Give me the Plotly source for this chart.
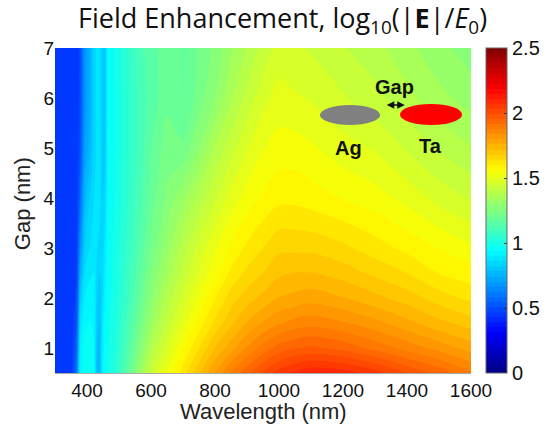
import plotly.graph_objects as go

# Wavelength samples (nm) and gap samples (nm)
wavelength = [300, 350, 368, 378, 392, 408, 422, 432, 440, 448, 455, 465, 490, 520,
              560, 600, 650, 700, 750, 800, 850, 900, 950, 1000, 1050, 1100, 1200,
              1300, 1400, 1500, 1600]
gap = [0.5, 1, 1.5, 2, 2.5, 3, 4, 5, 6, 7]

# log10(|E|/E0) along wavelength, one row per gap
enh_g0_5 = [0.43, 0.44, 0.60, 0.92, 0.96, 0.97, 0.95, 0.77, 0.75, 0.92, 0.96, 0.98, 1.03, 1.14,
            1.29, 1.43, 1.53, 1.62, 1.71, 1.80, 1.88, 1.94, 2.00, 2.05, 2.08, 2.10, 2.09,
            2.05, 1.99, 1.94, 1.88]
enh_g1 = [0.43, 0.44, 0.55, 0.90, 0.95, 0.96, 0.94, 0.78, 0.76, 0.90, 0.95, 0.97, 1.02, 1.11,
          1.24, 1.37, 1.47, 1.56, 1.64, 1.72, 1.78, 1.84, 1.89, 1.93, 1.95, 1.96, 1.94,
          1.90, 1.86, 1.82, 1.78]
enh_g1_5 = [0.43, 0.44, 0.51, 0.86, 0.93, 0.94, 0.93, 0.80, 0.78, 0.88, 0.94, 0.97, 1.01, 1.09,
            1.20, 1.32, 1.42, 1.50, 1.58, 1.65, 1.71, 1.76, 1.80, 1.83, 1.85, 1.86, 1.84,
            1.81, 1.77, 1.73, 1.70]
enh_g2 = [0.43, 0.44, 0.48, 0.80, 0.90, 0.92, 0.92, 0.82, 0.80, 0.85, 0.92, 0.96, 1.00, 1.07,
          1.17, 1.28, 1.38, 1.46, 1.53, 1.60, 1.66, 1.70, 1.73, 1.76, 1.77, 1.78, 1.76,
          1.73, 1.70, 1.66, 1.63]
enh_g2_5 = [0.43, 0.44, 0.46, 0.73, 0.86, 0.89, 0.90, 0.84, 0.82, 0.84, 0.90, 0.96, 0.99, 1.06,
            1.15, 1.25, 1.34, 1.42, 1.49, 1.55, 1.61, 1.65, 1.68, 1.71, 1.72, 1.72, 1.70,
            1.67, 1.64, 1.60, 1.58]
enh_g3 = [0.43, 0.44, 0.45, 0.66, 0.82, 0.86, 0.88, 0.86, 0.85, 0.83, 0.88, 0.95, 0.99, 1.05,
          1.13, 1.22, 1.31, 1.39, 1.46, 1.52, 1.57, 1.61, 1.64, 1.67, 1.67, 1.67, 1.65,
          1.62, 1.59, 1.56, 1.53]
enh_g4 = [0.43, 0.44, 0.45, 0.56, 0.76, 0.82, 0.86, 0.87, 0.87, 0.82, 0.84, 0.94, 0.98, 1.04,
          1.11, 1.19, 1.26, 1.32, 1.38, 1.44, 1.50, 1.54, 1.57, 1.59, 1.59, 1.58, 1.56,
          1.54, 1.51, 1.47, 1.44]
enh_g5 = [0.43, 0.44, 0.45, 0.50, 0.70, 0.76, 0.84, 0.87, 0.87, 0.82, 0.80, 0.94, 0.98, 1.03,
          1.10, 1.17, 1.23, 1.22, 1.29, 1.37, 1.43, 1.48, 1.52, 1.54, 1.54, 1.53, 1.50,
          1.48, 1.44, 1.40, 1.37]
enh_g6 = [0.43, 0.44, 0.45, 0.48, 0.68, 0.74, 0.84, 0.87, 0.87, 0.82, 0.79, 0.94, 0.98, 1.03,
          1.10, 1.15, 1.20, 1.17, 1.23, 1.29, 1.36, 1.42, 1.47, 1.50, 1.49, 1.48, 1.45,
          1.42, 1.38, 1.34, 1.31]
enh_g7 = [0.43, 0.44, 0.45, 0.48, 0.68, 0.74, 0.84, 0.87, 0.87, 0.82, 0.79, 0.94, 0.98, 1.04,
          1.11, 1.16, 1.19, 1.17, 1.22, 1.26, 1.32, 1.37, 1.42, 1.46, 1.45, 1.44, 1.41,
          1.38, 1.34, 1.30, 1.27]

z = [enh_g0_5, enh_g1, enh_g1_5, enh_g2, enh_g2_5, enh_g3, enh_g4, enh_g5, enh_g6, enh_g7]

x_ticks = [400, 600, 800, 1000, 1200, 1400, 1600]
y_ticks = [1, 2, 3, 4, 5, 6, 7]
cbar_ticks = [0, 0.5, 1, 1.5, 2, 2.5]
cbar_labels = ["0", "0.5", "1", "1.5", "2", "2.5"]

# MATLAB-style jet colormap
jet = [
    [0.0, "rgb(0,0,128)"],
    [0.125, "rgb(0,0,255)"],
    [0.375, "rgb(0,255,255)"],
    [0.625, "rgb(255,255,0)"],
    [0.875, "rgb(255,0,0)"],
    [1.0, "rgb(128,0,0)"],
]

ZMIN, ZMAX = 0.0, 2.5
N_LEVELS = 64

fig = go.Figure()
fig.add_trace(go.Contour(
    x=wavelength, y=gap, z=z,
    colorscale=jet, zmin=ZMIN, zmax=ZMAX, zauto=False,
    autocontour=False,
    contours=dict(start=ZMIN, end=ZMAX, size=(ZMAX - ZMIN) / N_LEVELS,
                  coloring="fill", showlines=False),
    line=dict(width=0, smoothing=1.0),
    colorbar=dict(
        x=1.036, xanchor="left", xref="paper",
        y=0.5, yanchor="middle", len=1.0, lenmode="fraction",
        thickness=21, thicknessmode="pixels",
        outlinewidth=1, outlinecolor="#666",
        tickvals=cbar_ticks, ticktext=cbar_labels,
        ticks="inside", ticklen=3, tickcolor="#333",
        tickfont=dict(family="Liberation Sans, Arial", size=20, color="#111"),
        ypad=0, xpad=0,
    ),
    hoverinfo="skip",
))

# Dimer sketch: Ag and Ta particles separated by a gap
fig.add_shape(type="circle", xref="x", yref="y",
              x0=1128, x1=1316, y0=5.46, y1=5.86,
              fillcolor="rgb(128,128,128)", line=dict(width=0))
fig.add_shape(type="circle", xref="x", yref="y",
              x0=1378, x1=1572, y0=5.46, y1=5.88,
              fillcolor="rgb(255,0,0)", line=dict(width=0))
fig.add_annotation(x=1393, y=5.86, ax=1332, ay=5.86, xref="x", yref="y",
                   axref="x", ayref="y", text="", showarrow=True,
                   arrowside="end+start", arrowhead=2, arrowsize=1,
                   arrowwidth=1.5, arrowcolor="#111")

label_font = dict(family="Liberation Sans, Arial", size=20, color="#111")
fig.add_annotation(x=1362, y=6.22, xref="x", yref="y", text="<b>Gap</b>",
                   showarrow=False, font=label_font)
fig.add_annotation(x=1216, y=5.0, xref="x", yref="y", text="<b>Ag</b>",
                   showarrow=False, font=label_font)
fig.add_annotation(x=1472, y=5.04, xref="x", yref="y", text="<b>Ta</b>",
                   showarrow=False, font=label_font)

# Title and axis titles
fig.add_annotation(
    x=0.548, y=1.087, xref="paper", yref="paper", xanchor="center", yanchor="middle",
    text="Field Enhancement, log<sub>10</sub>(|<b>E</b>|/<i>E</i><sub>0</sub>)",
    showarrow=False, font=dict(family="Open Sans", size=27, color="#111"))
fig.add_annotation(
    x=0.5, y=-0.118, xref="paper", yref="paper", xanchor="center", yanchor="middle",
    text="Wavelength (nm)", showarrow=False,
    font=dict(family="Liberation Sans, Arial", size=22, color="#222"))
fig.add_annotation(
    x=-0.079, y=0.52, xref="paper", yref="paper", xanchor="center", yanchor="middle",
    text="Gap (nm)", textangle=-90, showarrow=False,
    font=dict(family="Liberation Sans, Arial", size=22, color="#222"))

tick_font = dict(family="Liberation Sans, Arial", size=19, color="#111")
fig.update_layout(
    width=547, height=430,
    margin=dict(l=55, r=76, t=48, b=57, autoexpand=False),
    paper_bgcolor="white", plot_bgcolor="white",
    showlegend=False,
    xaxis=dict(range=[300, 1600], tickvals=x_ticks, ticks="", showgrid=False,
               zeroline=False, tickfont=tick_font, showline=True,
               linecolor="#aaa", linewidth=1, fixedrange=True),
    yaxis=dict(range=[0.5, 7], tickvals=y_ticks, ticks="", showgrid=False,
               zeroline=False, tickfont=tick_font, showline=False, fixedrange=True),
)

fig.write_html("out.html")
